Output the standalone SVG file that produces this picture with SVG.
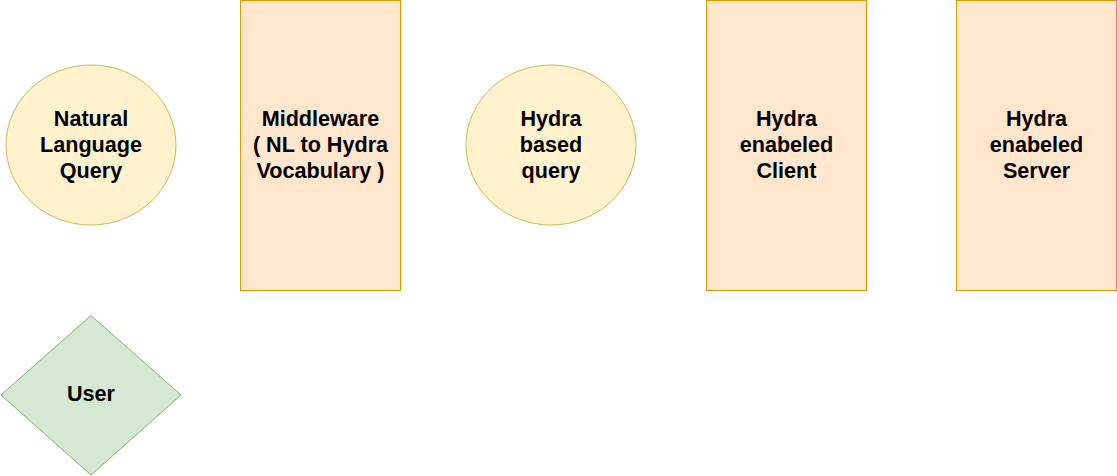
<svg xmlns="http://www.w3.org/2000/svg" width="1117" height="476" viewBox="0 0 1117 476">
<style>
.t{font-family:"Liberation Sans",Arial,sans-serif;font-weight:bold;font-size:21.6px;fill:#000;text-anchor:middle}
.ell{fill:#fff2cc;stroke:#d6b656;stroke-width:1}
.box{fill:#ffe6cc;stroke:#d79b00;stroke-width:1}
.dia{fill:#d5e8d4;stroke:#82b366;stroke-width:1}
</style>
<rect width="1117" height="476" fill="#fff"/>
<g id="connectors"></g>
<g id="nl-query">
<ellipse class="ell" cx="91" cy="145" rx="85" ry="80"/>
<text class="t" x="91" y="126">Natural</text>
<text class="t" x="91" y="152">Language</text>
<text class="t" x="91" y="178">Query</text>
</g>
<g id="middleware">
<rect class="box" x="240.5" y="0.5" width="160" height="290"/>
<text class="t" x="320.5" y="126">Middleware</text>
<text class="t" x="320.5" y="152">( NL to Hydra</text>
<text class="t" x="320.5" y="178">Vocabulary )</text>
</g>
<g id="hydra-query">
<ellipse class="ell" cx="551" cy="145" rx="85" ry="80"/>
<text class="t" x="551" y="126">Hydra</text>
<text class="t" x="551" y="152">based</text>
<text class="t" x="551" y="178">query</text>
</g>
<g id="hydra-client">
<rect class="box" x="706.5" y="0.5" width="160" height="290"/>
<text class="t" x="786.5" y="126">Hydra</text>
<text class="t" x="786.5" y="152">enabeled</text>
<text class="t" x="786.5" y="178">Client</text>
</g>
<g id="hydra-server">
<rect class="box" x="956.5" y="0.5" width="160" height="290"/>
<text class="t" x="1036.5" y="126">Hydra</text>
<text class="t" x="1036.5" y="152">enabeled</text>
<text class="t" x="1036.5" y="178">Server</text>
</g>
<g id="user">
<polygon class="dia" points="91,315.5 181,395 91,475 1,395"/>
<text class="t" x="91" y="401">User</text>
</g>
</svg>
